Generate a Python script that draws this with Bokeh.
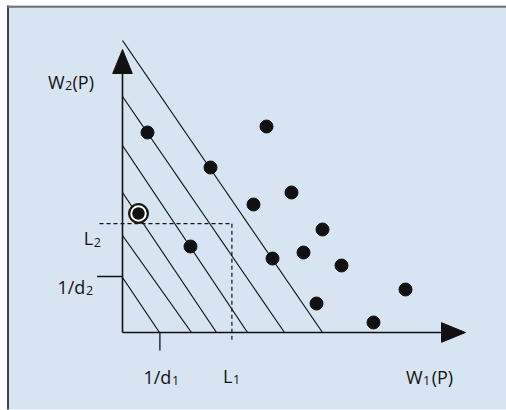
from bokeh.plotting import figure
from bokeh.models import Range1d
from bokeh.core.properties import value
from bokeh.embed import file_html
from bokeh.resources import INLINE

# ---- data (units of the two objective axes W1(P), W2(P)) ----
line_x_int = [10.0, 8.1, 6.25, 4.7, 3.45, 1.85]    # where each iso-line meets W1 axis
line_y_int = [14.6, 11.8, 9.35, 7.0, 4.85, 2.75]   # where each iso-line meets W2 axis

pts_w1 = [1.25, 4.4, 7.2, 8.45, 6.55, 3.4, 10.0, 9.05, 7.5, 10.95, 14.15, 9.7, 12.55]
pts_w2 = [10.0, 8.25, 10.3, 7.0, 6.4, 4.3, 5.15, 4.0, 3.7, 3.35, 2.15, 1.45, 0.5]

best_w1 = [0.8]
best_w2 = [5.95]

inv_d1 = 1.87
inv_d2 = 2.8
L1 = 5.47
L2 = 5.44

x_axis_end = 17.15
y_axis_end = 14.15

BG = "#d7e5f2"
INK = "#111111"
TXT = "#111111"
FONT = "Open Sans"

p = figure(width=506, height=410, output_backend="svg", toolbar_location=None,
           x_range=Range1d(-6.1, 19.2), y_range=Range1d(-3.9, 16.6),
           x_axis_location=None, y_axis_location=None, min_border=0)
p.grid.visible = False
p.outline_line_color = None
p.background_fill_color = "white"
p.border_fill_color = "white"

# panel background and border (left dark, top grey)
p.quad(left=[-5.75], right=[19.2], bottom=[-3.85], top=[16.35], fill_color=BG, line_color=None)
p.segment(x0=[-5.725], y0=[-3.85], x1=[-5.725], y1=[16.35], line_color="#1a1a1a", line_width=1.6)
p.segment(x0=[-5.75], y0=[16.29], x1=[19.2], y1=[16.29], line_color="#6e7377", line_width=2.0)

# iso-lines
p.segment(x0=[0] * len(line_y_int), y0=line_y_int, x1=line_x_int, y1=[0] * len(line_x_int),
          line_color=INK, line_width=1.2)

# dashed guides L1 / L2
p.segment(x0=[-1.15, L1], y0=[L2, L2], x1=[L1, L1], y1=[L2, -0.5],
          line_color=INK, line_width=1.2, line_dash="4 3")

# tick marks for 1/d1, 1/d2
p.segment(x0=[-1.27, inv_d1], y0=[inv_d2, 0], x1=[0, inv_d1], y1=[inv_d2, -0.9],
          line_color=INK, line_width=1.3)

# axes
head_len = 1.2
head_half = 0.49
p.segment(x0=[0, 0], y0=[0, 0], x1=[x_axis_end - head_len, 0], y1=[0, y_axis_end - head_len],
          line_color=INK, line_width=1.6)
p.patches(xs=[[x_axis_end - head_len, x_axis_end, x_axis_end - head_len],
              [-head_half, 0, head_half]],
          ys=[[-head_half, 0, head_half],
              [y_axis_end - head_len, y_axis_end, y_axis_end - head_len]],
          fill_color=INK, line_color=INK, line_width=1)

# points
p.scatter(pts_w1, pts_w2, size=13, fill_color=INK, line_color=INK)
p.scatter(best_w1, best_w2, size=20, fill_color=INK, line_color=INK)
p.scatter(best_w1, best_w2, size=16.5, fill_color="white", line_color=None)
p.scatter(best_w1, best_w2, size=12.5, fill_color=INK, line_color=None)

# labels: main part right-aligned before subscript, subscript, trailing part
pre_txt = ["W", "L", "1/d", "1/d", "L", "W"]
pre_x = [-2.9, -1.47, -1.86, 2.44, 5.5, 15.0]
pre_y = [12.52, 4.72, 2.3, -2.24, -2.16, -2.24]
sub_txt = ["2", "2", "2", "1", "1", "1"]
sub_y = [12.33, 4.52, 2.1, -2.42, -2.36, -2.42]
post_txt = ["(P)", "(P)"]
post_x = [-2.5, 15.46]
post_y = [12.52, -2.24]

p.text(pre_x, pre_y, text=pre_txt, text_font=value(FONT), text_font_size="18px",
       text_color=TXT, text_align="right", text_baseline="alphabetic")
p.text([x + 0.03 for x in pre_x], sub_y, text=sub_txt, text_font=value(FONT),
       text_font_size="12.5px", text_color=TXT, text_align="left", text_baseline="alphabetic")
p.text(post_x, post_y, text=post_txt, text_font=value(FONT), text_font_size="18px",
       text_color=TXT, text_align="left", text_baseline="alphabetic")

open("out.html", "w").write(file_html(p, INLINE))
